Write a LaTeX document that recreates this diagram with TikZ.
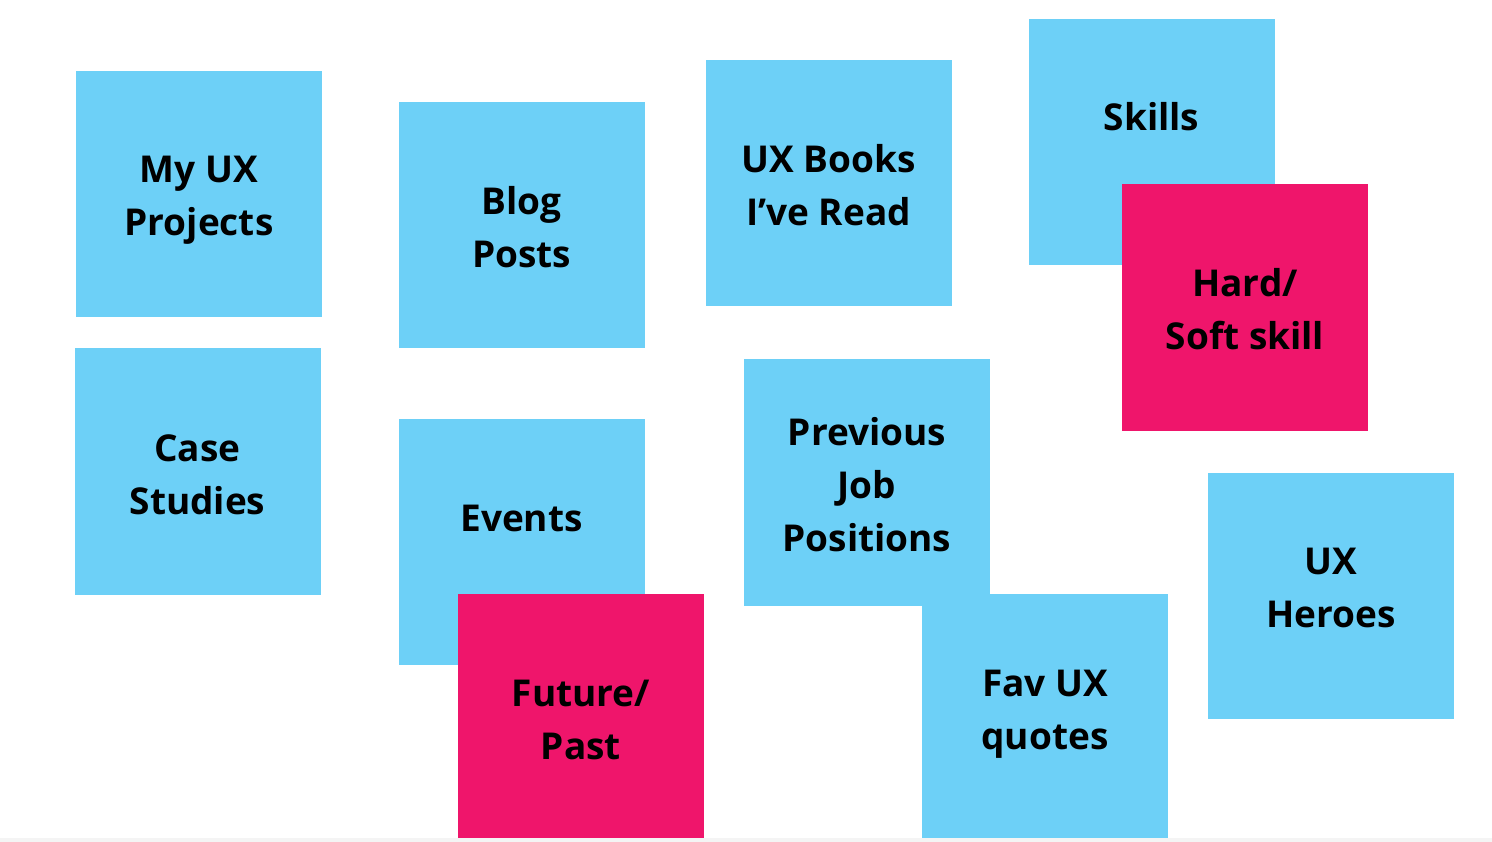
\documentclass[tikz,border=0pt]{standalone}
\usepackage{fontspec}
\setmainfont{Open Sans}
\usetikzlibrary{positioning}

\definecolor{noteblue}{HTML}{6DD0F7}
\definecolor{notepink}{HTML}{EF156B}
\definecolor{stripgray}{HTML}{F4F4F4}

\begin{document}
\begin{tikzpicture}[x=1pt, y=-1pt,
    note/.style={rectangle, fill=noteblue, minimum width=246pt, minimum height=246pt, inner sep=0pt},
    pinknote/.style={note, fill=notepink},
    notetext/.style={align=center, anchor=base, inner sep=0pt, font=\fontsize{37}{53}\selectfont\bfseries}]
  \useasboundingbox[fill=white] (0,0) rectangle (1492,842);

  % left column
  \node[note] (projects) at (199,194.5) {};
  \node[notetext] at (199,236) {My UX\\Projects};
  \node[note] (cases) at (197.5,471.5) {};
  \node[notetext] at (197.5,514) {Case\\Studies};

  % second column
  \node[note] (blog) at (521.5,225.5) {};
  \node[notetext] at (521.5,268) {Blog\\Posts};
  \node[note] (events) at (521.5,541.5) {};
  \node[notetext] (eventstext) at (521.5,531) {Events};
  \node[pinknote] (future) at (581,717) {};
  \node[notetext] at (581,759) {Future/\\Past};

  % third column
  \node[note] (books) at (828.5,183.5) {};
  \node[notetext] at (828.5,226) {UX Books\\I’ve Read};
  \node[note] (jobs) at (867,482.5) {};
  \node[notetext] at (867,551) {Previous\\Job\\Positions};
  \node[note] (quotes) at (1045,717) {};
  \node[notetext] at (1045,749) {Fav UX\\quotes};

  % right column
  \node[note] (skills) at (1151.5,142.5) {};
  \node[notetext] (skillstext) at (1151.5,131) {Skills};
  \node[pinknote] (hardsoft) at (1245,307.5) {};
  \node[notetext] at (1245,350) {Hard/\\Soft skill};
  \node[note] (heroes) at (1331,595.5) {};
  \node[notetext] at (1331,627) {UX\\Heroes};

  \fill[stripgray] (0,838) rectangle (1492,842);
\end{tikzpicture}
\end{document}
